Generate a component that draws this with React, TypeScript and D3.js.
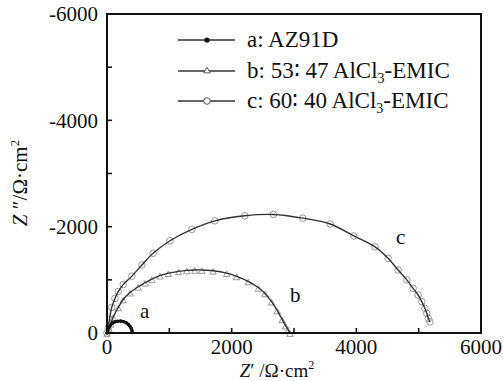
import { useEffect, useRef } from "react";
import * as d3 from "d3";

// axis ticks
const xTicks = [0, 2000, 4000, 6000];
const xMinor = [1000, 3000, 5000];
const yTicks = [0, -2000, -4000, -6000];
const yMinor = [-1000, -3000, -5000];

// a: AZ91D
const aZre = [0, 12, 30, 55, 90, 130, 175, 220, 265, 305, 340, 368, 388, 400, 405];
const aZim = [0, -55, -105, -150, -185, -210, -222, -224, -214, -195, -165, -128, -88, -45, -8];

// b: 53:47 AlCl3-EMIC
const bZre = [0, 30, 60, 100, 180, 260, 370, 500, 610, 720, 850, 985, 1150, 1280, 1410, 1520, 1700, 1920, 2080, 2265, 2430, 2535, 2640, 2730, 2810, 2865, 2905, 2935];
const bZim = [0, -90, -175, -300, -480, -630, -760, -870, -945, -1015, -1080, -1125, -1160, -1178, -1186, -1186, -1170, -1125, -1065, -970, -850, -745, -590, -425, -255, -140, -60, 0];

// c: 60:40 AlCl3-EMIC
const cZre = [0, 20, 40, 75, 128, 180, 260, 400, 560, 740, 1010, 1360, 1730, 2210, 2670, 3140, 3580, 3960, 4300, 4510, 4670, 4810, 4910, 4990, 5050, 5100, 5130, 5155, 5180];
const cZim = [0, -100, -260, -480, -650, -780, -910, -1070, -1280, -1500, -1735, -1950, -2110, -2205, -2230, -2160, -2050, -1825, -1620, -1405, -1185, -1000, -840, -715, -590, -465, -370, -275, -210];

const width = 503, height = 381;
const margin = { top: 14, right: 22, bottom: 48, left: 107 };
const serif = "'Times New Roman', 'Liberation Serif', Tinos, serif";

const App = () => {
  const ref = useRef<SVGSVGElement>(null);

  useEffect(() => {
    const svg = d3.select(ref.current);
    svg.selectAll("*").remove();

    const x = d3.scaleLinear().domain([0, 6000]).range([margin.left, width - margin.right]);
    const y = d3.scaleLinear().domain([0, -6000]).range([height - margin.bottom, margin.top]);
    const x0 = x.range()[0], x1 = x.range()[1];
    const y0 = y.range()[0], y1 = y.range()[1];

    const line = d3.line<[number, number]>()
      .x(d => x(d[0]))
      .y(d => y(d[1]))
      .curve(d3.curveCatmullRom.alpha(0.5));

    const pts = (re: number[], im: number[]) => re.map((v, i) => [v, im[i]] as [number, number]);
    const a = pts(aZre, aZim), b = pts(bZre, bZim), c = pts(cZre, cZim);

    const g = svg.append("g");

    // c markers + fit
    g.selectAll("circle.c").data(c).enter().append("circle")
      .attr("cx", d => x(d[0])).attr("cy", d => y(d[1])).attr("r", 3.3)
      .attr("fill", "none").attr("stroke", "#999").attr("stroke-width", 1);
    g.append("path").attr("d", line(c)).attr("fill", "none").attr("stroke", "#333").attr("stroke-width", 1.4);

    // b markers + fit
    const tri = d3.symbol().type(d3.symbolTriangle).size(18);
    g.selectAll("path.b").data(b).enter().append("path")
      .attr("d", tri).attr("transform", d => `translate(${x(d[0])},${y(d[1]) + 1.5})`)
      .attr("fill", "none").attr("stroke", "#999").attr("stroke-width", 1);
    g.append("path").attr("d", line(b)).attr("fill", "none").attr("stroke", "#333").attr("stroke-width", 1.4);

    // a markers + fit
    g.append("path").attr("d", line(a)).attr("fill", "none").attr("stroke", "#111").attr("stroke-width", 2.6);
    g.selectAll("circle.a").data(a).enter().append("circle")
      .attr("cx", d => x(d[0])).attr("cy", d => y(d[1])).attr("r", 1.8).attr("fill", "#111");

    // frame
    svg.append("rect").attr("x", x0).attr("y", y1).attr("width", x1 - x0).attr("height", y0 - y1)
      .attr("fill", "none").attr("stroke", "#111").attr("stroke-width", 2);

    // ticks (inward)
    svg.selectAll("line.xt").data([...xTicks, ...xMinor]).enter().append("line")
      .attr("x1", d => x(d)).attr("x2", d => x(d)).attr("y1", y0).attr("y2", y0 - 5)
      .attr("stroke", "#111").attr("stroke-width", 1.6);
    svg.selectAll("line.yt").data([...yTicks, ...yMinor]).enter().append("line")
      .attr("x1", x0).attr("x2", x0 + 5).attr("y1", d => y(d)).attr("y2", d => y(d))
      .attr("stroke", "#111").attr("stroke-width", 1.6);

    // tick labels
    svg.selectAll("text.xl").data(xTicks).enter().append("text")
      .attr("x", d => x(d)).attr("y", 354).attr("text-anchor", "middle")
      .attr("font-family", serif).attr("font-size", 21).attr("fill", "#111")
      .text(d => String(d));
    svg.selectAll("text.yl").data(yTicks).enter().append("text")
      .attr("x", x0 - 9).attr("y", d => y(d)).attr("dy", "0.35em").attr("text-anchor", "end")
      .attr("font-family", serif).attr("font-size", 21).attr("fill", "#111")
      .text(d => String(d));

    // axis titles
    const xt = svg.append("text").attr("x", 277).attr("y", 377).attr("text-anchor", "middle")
      .attr("font-family", serif).attr("font-size", 19).attr("fill", "#111");
    xt.append("tspan").attr("font-style", "italic").text("Z");
    xt.append("tspan").text("\u2032 /\u03A9\u00B7cm");
    xt.append("tspan").attr("font-size", 12).attr("dy", -8).text("2");

    const yt = svg.append("text").attr("transform", "translate(27,183) rotate(-90)").attr("text-anchor", "middle")
      .attr("font-family", serif).attr("font-size", 21).attr("fill", "#111");
    yt.append("tspan").attr("font-style", "italic").text("Z");
    yt.append("tspan").text(" \u2033/\u03A9\u00B7cm");
    yt.append("tspan").attr("font-size", 13).attr("dy", -8).text("2");

    // curve labels
    const lab = [["a", 140, 318], ["b", 290, 302], ["c", 396, 244]] as const;
    svg.selectAll("text.cl").data(lab).enter().append("text")
      .attr("x", d => d[1]).attr("y", d => d[2])
      .attr("font-family", serif).attr("font-size", 21).attr("fill", "#111")
      .text(d => d[0]);

    // legend
    const legend = svg.append("g");
    const rows = [40, 71, 101];
    rows.forEach((ry, i) => {
      legend.append("line").attr("x1", 178).attr("x2", 235).attr("y1", ry).attr("y2", ry)
        .attr("stroke", "#333").attr("stroke-width", 1.3);
      if (i === 0) legend.append("circle").attr("cx", 207).attr("cy", ry).attr("r", 2.6).attr("fill", "#111");
      if (i === 1) legend.append("path").attr("d", tri).attr("transform", `translate(207,${ry})`)
        .attr("fill", "#fff").attr("stroke", "#555").attr("stroke-width", 1);
      if (i === 2) legend.append("circle").attr("cx", 207).attr("cy", ry).attr("r", 3.3)
        .attr("fill", "#fff").attr("stroke", "#555").attr("stroke-width", 1);
    });
    const lt = (ry: number) => legend.append("text").attr("x", 247).attr("y", ry + 7)
      .attr("font-family", serif).attr("font-size", 23).attr("fill", "#111");
    lt(rows[0]).text("a: AZ91D");
    const t2 = lt(rows[1]);
    t2.append("tspan").text("b: 53\u2236 47 AlCl");
    t2.append("tspan").attr("font-size", 14).attr("dy", 5).text("3");
    t2.append("tspan").attr("dy", -5).text("-EMIC");
    const t3 = lt(rows[2]);
    t3.append("tspan").text("c: 60\u2236 40 AlCl");
    t3.append("tspan").attr("font-size", 14).attr("dy", 5).text("3");
    t3.append("tspan").attr("dy", -5).text("-EMIC");
  }, []);

  return (
    <svg ref={ref} width={width} height={height}
      style={{ position: "absolute", left: 0, top: 0, background: "#fff" }} />
  );
};

export default App;
